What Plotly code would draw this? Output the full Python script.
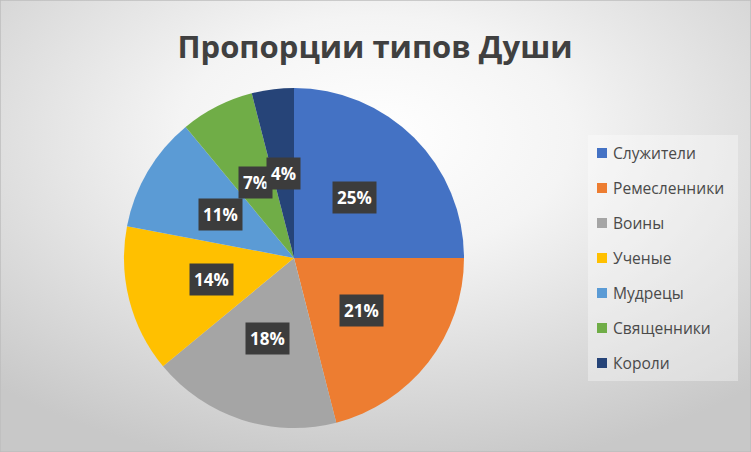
import math, base64
import plotly.graph_objects as go

categories = ["Служители", "Ремесленники", "Воины", "Ученые", "Мудрецы", "Священники", "Короли"]
values = [25, 21, 18, 14, 11, 7, 4]
colors = ["#4472C4", "#ED7D31", "#A5A5A5", "#FFC000", "#5B9BD5", "#70AD47", "#264478"]
title_text = "Пропорции типов Души"

W, H = 751, 452
# pie placement (pixels)
cx_px, cy_px, R_px = 294, 258, 170

svg = f'''<svg xmlns="http://www.w3.org/2000/svg" width="{W}" height="{H}">
<defs><radialGradient id="g" cx="50%" cy="30%" r="75%">
<stop offset="0" stop-color="#ffffff"/><stop offset="0.35" stop-color="#f4f4f4"/><stop offset="1" stop-color="#c8c8c8"/>
</radialGradient></defs>
<rect width="{W}" height="{H}" fill="url(#g)"/></svg>'''
bg_src = "data:image/svg+xml;base64," + base64.b64encode(svg.encode()).decode()

fig = go.Figure()
fig.add_trace(go.Pie(
    labels=categories, values=values, sort=False, direction="clockwise", rotation=0,
    marker=dict(colors=colors, line=dict(width=0)),
    textinfo="none", showlegend=False,
    domain=dict(x=[(cx_px - R_px) / W, (cx_px + R_px) / W],
                y=[1 - (cy_px + R_px) / H, 1 - (cy_px - R_px) / H]),
))

annotations = []
total = sum(values)
cum = 0
for v in values:
    mid = (cum + v / 2) / total * 2 * math.pi
    cum += v
    r = 0.5 * R_px
    px = cx_px + r * math.sin(mid)
    py = cy_px - r * math.cos(mid)
    annotations.append(dict(
        x=px / W, y=1 - py / H, xref="paper", yref="paper", showarrow=False,
        text=f"<b>{round(v / total * 100)}%</b>",
        font=dict(family="Open Sans", size=17, color="white"),
        bgcolor="#3c3c3c", borderpad=4, xanchor="center", yanchor="middle",
    ))

# legend (custom, Excel style)
shapes = []
leg_x0, leg_y_start, leg_step = 597, 153, 35
for i, (c, col) in enumerate(zip(categories, colors)):
    yc = leg_y_start + i * leg_step
    shapes.append(dict(type="rect", xref="paper", yref="paper",
                       x0=leg_x0 / W, x1=(leg_x0 + 10) / W,
                       y0=1 - (yc + 5) / H, y1=1 - (yc - 5) / H,
                       fillcolor=col, line=dict(width=0)))
    annotations.append(dict(
        x=(leg_x0 + 14) / W, y=1 - yc / H, xref="paper", yref="paper", showarrow=False,
        text=c, xanchor="left", yanchor="middle",
        font=dict(family="Open Sans", size=15.6, color="#4a4a4a"),
    ))

# legend box
shapes.insert(0, dict(type="rect", xref="paper", yref="paper", layer="below",
                      x0=588 / W, x1=738 / W, y0=1 - 381 / H, y1=1 - 135 / H,
                      fillcolor="rgba(255,255,255,0.35)", line=dict(width=0)))
# outer border
shapes.append(dict(type="rect", xref="paper", yref="paper",
                   x0=0, x1=1, y0=0, y1=1, line=dict(color="#bdbdbd", width=1.5)))

fig.update_layout(
    width=W, height=H,
    margin=dict(l=0, r=0, t=0, b=0),
    paper_bgcolor="#e6e6e6", plot_bgcolor="rgba(0,0,0,0)",
    title=dict(text=f"<b>{title_text}</b>", x=375 / W, xanchor="center",
               y=1 - 47 / H, yanchor="middle",
               font=dict(family="Open Sans", size=31, color="#404040")),
    images=[dict(source=bg_src, xref="paper", yref="paper", x=0, y=1,
                 sizex=1, sizey=1, sizing="stretch", layer="below")],
    shapes=shapes, annotations=annotations,
)
fig.write_html("out.html")
